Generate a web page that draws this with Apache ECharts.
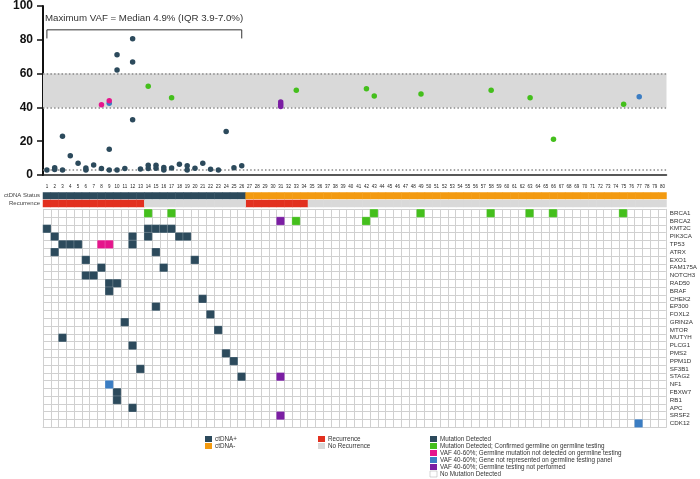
<!DOCTYPE html>
<html><head><meta charset="utf-8">
<script src="https://cdn.jsdelivr.net/npm/echarts@6/dist/echarts.min.js"></script>
<style>html,body{margin:0;padding:0;background:#fff}#c{width:700px;height:479px}</style>
</head><body><div id="c"></div>
<script>
// ---------- data ----------
const patients = ['1','2','3','4','5','6','7','8','9','10','11','12','13','14','15','16','17','18','19','20',
  '21','22','23','24','25','26','27','28','29','30','31','32','33','34','35','36','37','38','39','40',
  '41','42','43','44','45','46','47','48','49','50','51','52','53','54','55','56','57','58','59','60',
  '61','62','63','64','65','66','67','68','69','70','71','72','73','74','75','76','77','78','79','80'];
const genes = ['BRCA1','BRCA2','KMT2C','PIK3CA','TP53','ATRX','EXO1','FAM175A','NOTCH3','RAD50','BRAF','CHEK2',
  'EP300','FOXL2','GRIN2A','MTOR','MUTYH','PLCG1','PMS2','PPM1D','SF3B1','STAG2','NF1','FBXW7','RB1','APC','SRSF2','CDK12'];
const vafTicks = [0, 20, 40, 60, 80, 100];

// VAF points: [patient, VAF %]
const vafDetected = [[1,2.9],[2,4.3],[2,3.2],[3,22.9],[3,3.0],[4,11.4],[5,7.0],[6,4.1],[6,3.0],[7,5.9],
  [8,3.9],[9,15.3],[9,3.0],[10,71.2],[10,62.2],[10,3.0],[11,3.9],[12,80.6],[12,66.9],[12,32.7],[13,3.5],
  [14,5.8],[14,3.9],[15,5.7],[15,4.0],[16,4.5],[16,3.0],[17,4.2],[18,6.4],[19,5.5],[19,3.0],[20,4.0],
  [21,6.9],[22,3.4],[23,3.0],[24,25.7],[25,4.3],[26,5.5]];
const vafGermlineConfirmed = [[14,52.5],[17,45.7],[33,50.2],[42,51.0],[43,46.7],[49,48.0],[58,50.2],[63,45.7],[66,21.2],[75,41.8]];
const vafGermlineNotDetected = [[8,41.5],[9,43.9]];
const vafGeneNotOnPanel = [[9,42.4],[77,46.3]];
const vafGermlineNotTested = [[31,43.2],[31,41.9],[31,40.6]];

// status bars, one value per patient (1..80)
const ctdnaPositive = [1,1,1,1,1,1,1,1,1,1,1,1,1,1,1,1,1,1,1,1,1,1,1,1,1,1,
  0,0,0,0,0,0,0,0,0,0,0,0,0,0,0,0,0,0,0,0,0,0,0,0,0,0,0,0,0,0,0,0,0,0,0,0,0,0,0,0,0,0,0,0,0,0,0,0,0,0,0,0,0,0];
const recurrence = [1,1,1,1,1,1,1,1,1,1,1,1,1,0,0,0,0,0,0,0,0,0,0,0,0,0,
  1,1,1,1,1,1,1,1,0,0,0,0,0,0,0,0,0,0,0,0,0,0,0,0,0,0,0,0,0,0,0,0,0,0,0,0,0,0,0,0,0,0,0,0,0,0,0,0,0,0,0,0,0,0];

// heatmap cells: [patient, gene]
const cellsDetected = [[1,'KMT2C'],[14,'KMT2C'],[15,'KMT2C'],[16,'KMT2C'],[17,'KMT2C'],
  [2,'PIK3CA'],[12,'PIK3CA'],[14,'PIK3CA'],[18,'PIK3CA'],[19,'PIK3CA'],
  [3,'TP53'],[4,'TP53'],[5,'TP53'],[12,'TP53'],[2,'ATRX'],[15,'ATRX'],[6,'EXO1'],[20,'EXO1'],
  [8,'FAM175A'],[16,'FAM175A'],[6,'NOTCH3'],[7,'NOTCH3'],[9,'RAD50'],[10,'RAD50'],[9,'BRAF'],
  [21,'CHEK2'],[15,'EP300'],[22,'FOXL2'],[11,'GRIN2A'],[23,'MTOR'],[3,'MUTYH'],[12,'PLCG1'],
  [24,'PMS2'],[25,'PPM1D'],[13,'SF3B1'],[26,'STAG2'],[10,'FBXW7'],[10,'RB1'],[12,'APC']];
const cellsGermlineConfirmed = [[14,'BRCA1'],[17,'BRCA1'],[43,'BRCA1'],[49,'BRCA1'],[58,'BRCA1'],[63,'BRCA1'],
  [66,'BRCA1'],[75,'BRCA1'],[33,'BRCA2'],[42,'BRCA2']];
const cellsGermlineNotDetected = [[8,'TP53'],[9,'TP53']];
const cellsGeneNotOnPanel = [[9,'NF1'],[77,'CDK12']];
const cellsGermlineNotTested = [[31,'BRCA2'],[31,'STAG2'],[31,'SRSF2']];

// ---------- styling ----------
const FONT = 'Liberation Sans, Arial, Helvetica, sans-serif';
const COL = {dark:'#2c4a5c', green:'#44bf1c', pink:'#e5158c', blue:'#3b7dc3', purple:'#7b1ea3',
  orange:'#f39a10', red:'#e2301f', grey:'#d9d9d9', grid:'#d0d0d0'};
const L = 43, R = 33.5;

const pts = arr => arr.map(d => [String(d[0]), d[1]]);
const cells = arr => arr.map(d => [String(d[0]), d[1], 1]);
const statusCells = (vals, want, row) => vals.map((v, i) => v === want ? [patients[i], row, 1] : null).filter(Boolean);

function scatter(name, data, color) {
  return {name, type:'scatter', xAxisIndex:0, yAxisIndex:0, data:pts(data), symbolSize:5.5, z:5,
    itemStyle:{color, opacity:1}, emphasis:{disabled:true}};
}
function heat(name, data, color, xi, yi, border) {
  return {name, type:'heatmap', xAxisIndex:xi, yAxisIndex:yi, data, z:3,
    itemStyle:{color, borderColor: border ? 'rgba(255,255,255,0.35)' : color, borderWidth: border ? 0.6 : 0},
    emphasis:{disabled:true}};
}

const legendDefs = [
  {x:205, items:[['ctDNA+', COL.dark], ['ctDNA-', COL.orange]]},
  {x:318, items:[['Recurrence', COL.red], ['No Recurrence', COL.grey]]},
  {x:430, items:[['Mutation Detected', COL.dark],
    ['Mutation Detected; Confirmed germline on germline testing', COL.green],
    ['VAF 40-60%; Germline mutation not detected on germline testing', COL.pink],
    ['VAF 40-60%; Gene not represented on germline testing panel', COL.blue],
    ['VAF 40-60%; Germline testing not performed', COL.purple],
    ['No Mutation Detected', '#ffffff']]}
];
const graphics = [{type:'text', left:45, top:13, style:{text:'Maximum VAF = Median 4.9% (IQR 3.9-7.0%)',
  font:'9.7px '+FONT, fill:'#333'}}];
legendDefs.forEach(g => g.items.forEach((it, i) => {
  graphics.push({type:'rect', shape:{x:g.x, y:436+i*7, width:7, height:6},
    style:{fill:it[1], stroke: it[1]==='#ffffff' ? '#bbb' : null, lineWidth:0.6}});
  graphics.push({type:'text', x:g.x+10, y:439+i*7, style:{text:it[0], font:'6.3px '+FONT, fill:'#333',
    verticalAlign:'middle', align:'left'}});
}));

const hiddenCat = (gi) => ({type:'category', gridIndex:gi, data:patients, boundaryGap:true,
  axisLine:{show:false}, axisTick:{show:false}, axisLabel:{show:false}, splitLine:{show:false}});

const option = {
  animation:false,
  backgroundColor:'#fff',
  textStyle:{fontFamily:FONT},
  grid:[
    {left:L, right:R, top:5, height:170},
    {left:L, right:R, top:192.5, height:6.5},
    {left:L, right:R, top:200, height:7},
    {left:L, right:R, top:209.3, height:218}
  ],
  xAxis:[
    {type:'category', gridIndex:0, data:patients, boundaryGap:true,
      axisLine:{lineStyle:{color:'#222', width:1.5}},
      axisTick:{interval:0, alignWithLabel:true, length:6, lineStyle:{color:'#222', width:1}},
      axisLabel:{interval:0, fontSize:4.5, margin:9, color:'#222', fontFamily:FONT}, splitLine:{show:false}},
    hiddenCat(1), hiddenCat(2),
    {type:'category', gridIndex:3, data:patients, boundaryGap:true,
      axisLine:{show:true, lineStyle:{color:COL.grid, width:1}}, axisTick:{show:false}, axisLabel:{show:false},
      splitLine:{show:true, interval:0, lineStyle:{color:COL.grid, width:1}}}
  ],
  yAxis:[
    {type:'value', gridIndex:0, min:vafTicks[0], max:vafTicks[vafTicks.length-1], interval:vafTicks[1]-vafTicks[0],
      axisLine:{show:true, lineStyle:{color:'#111', width:2}},
      axisTick:{show:true, length:6, lineStyle:{color:'#111', width:1.5}},
      axisLabel:{fontSize:12, fontWeight:'bold', color:'#111', margin:10, fontFamily:FONT}, splitLine:{show:false}},
    {type:'category', gridIndex:1, data:['ctDNA Status'], axisLine:{show:false}, axisTick:{show:false},
      axisLabel:{fontSize:6, color:'#444', margin:3}},
    {type:'category', gridIndex:2, data:['Recurrence'], axisLine:{show:false}, axisTick:{show:false},
      axisLabel:{fontSize:6, color:'#444', margin:3}},
    {type:'category', gridIndex:3, data:genes, inverse:true, position:'right',
      axisLine:{show:true, lineStyle:{color:COL.grid, width:1}}, axisTick:{show:false},
      axisLabel:{interval:0, fontSize:6.2, color:'#333', margin:4, fontFamily:FONT},
      splitLine:{show:true, interval:0, lineStyle:{color:COL.grid, width:1}}}
  ],
  graphic:graphics,
  series:[
    {name:'bracket', type:'line', xAxisIndex:0, yAxisIndex:0, z:1, symbol:'none', silent:true,
      data:[['1',80.8],['1',85.9],['26',85.9],['26',80.8]], lineStyle:{color:'#333', width:1},
      markArea:{silent:true, itemStyle:{color:'#d9d9d9'}, data:[[{yAxis:40},{yAxis:60}]]},
      markLine:{silent:true, symbol:'none', label:{show:false},
        lineStyle:{color:'#888', type:[1.5,2.2], width:1.5},
        data:[{yAxis:3},{yAxis:40},{yAxis:60}]}},
    scatter('Mutation Detected', vafDetected, COL.dark),
    scatter('Mutation Detected; Confirmed germline on germline testing', vafGermlineConfirmed, COL.green),
    scatter('VAF 40-60%; Gene not represented on germline testing panel', vafGeneNotOnPanel, COL.blue),
    scatter('VAF 40-60%; Germline mutation not detected on germline testing', vafGermlineNotDetected, COL.pink),
    scatter('VAF 40-60%; Germline testing not performed', vafGermlineNotTested, COL.purple),
    heat('ctDNA+', statusCells(ctdnaPositive, 1, 'ctDNA Status'), COL.dark, 1, 1, false),
    heat('ctDNA-', statusCells(ctdnaPositive, 0, 'ctDNA Status'), COL.orange, 1, 1, false),
    heat('Recurrence', statusCells(recurrence, 1, 'Recurrence'), COL.red, 2, 2, false),
    heat('No Recurrence', statusCells(recurrence, 0, 'Recurrence'), COL.grey, 2, 2, false),
    heat('Mutation Detected ', cells(cellsDetected), COL.dark, 3, 3, true),
    heat('Germline confirmed', cells(cellsGermlineConfirmed), COL.green, 3, 3, true),
    heat('Germline not detected', cells(cellsGermlineNotDetected), COL.pink, 3, 3, true),
    heat('Gene not on panel', cells(cellsGeneNotOnPanel), COL.blue, 3, 3, true),
    heat('Germline not tested', cells(cellsGermlineNotTested), COL.purple, 3, 3, true)
  ]
};
const chart = echarts.init(document.getElementById('c'));
chart.setOption(option);
</script></body></html>
